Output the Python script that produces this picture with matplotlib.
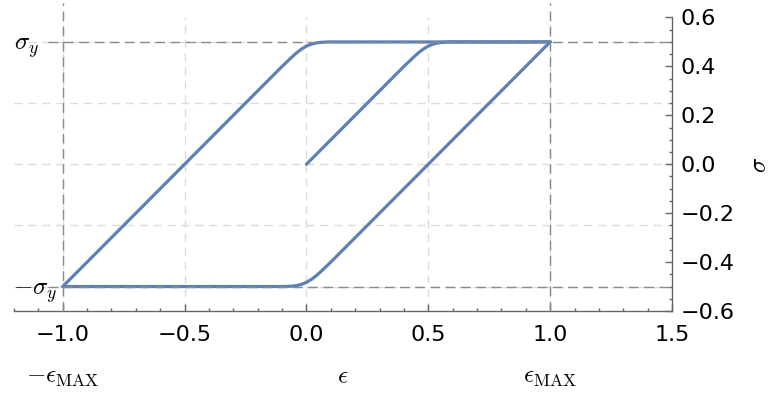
import numpy as np
import matplotlib
matplotlib.use("Agg")
import matplotlib.pyplot as plt
from matplotlib.ticker import MultipleLocator, FuncFormatter

plt.rcParams['mathtext.fontset'] = 'cm'
plt.rcParams['font.family'] = ['DejaVu Sans']

# strain / stress along the loading path (load, unload, reload)
strain_load = [0.0, 0.40, 0.44, 0.46, 0.48, 0.50, 0.52, 0.54, 0.56, 0.59, 1.0]
stress_load = [0.0, 0.40, 0.438, 0.456, 0.471, 0.483, 0.491, 0.496, 0.4985, 0.5, 0.5]

strain_unload = [1.0, 0.10, 0.06, 0.04, 0.02, 0.0, -0.02, -0.04, -0.06, -0.09, -1.0]
stress_unload = [0.5, -0.40, -0.438, -0.456, -0.471, -0.483, -0.491, -0.496, -0.4985, -0.5, -0.5]

strain_reload = [-1.0, -0.10, -0.06, -0.04, -0.02, 0.0, 0.02, 0.04, 0.06, 0.09, 1.0]
stress_reload = [-0.5, 0.40, 0.438, 0.456, 0.471, 0.483, 0.491, 0.496, 0.4985, 0.5, 0.5]

sigma_y = 0.5
eps_max = 1.0

curve_col = '#5E81B5'
dark = '#8a8a8a'
light = '#dcdcdc'

fig = plt.figure(figsize=(7.7, 3.94), dpi=100)
ax = fig.add_axes([0.0182, 0.2107, 0.8545, 0.7449])
ax.set_xlim(-1.2, 1.5)
ax.set_ylim(-0.6, 0.6)

# light grid
for gx in [-1.0, -0.5, 0.0, 0.5, 1.0]:
    ax.plot([gx, gx], [-0.6, 0.6], color=light, lw=1, ls=(0, (6, 4)), zorder=1)
for gy in [-0.5, -0.25, 0.0, 0.25, 0.5]:
    ax.plot([-1.2, 1.5], [gy, gy], color=light, lw=1, ls=(0, (6, 4)), zorder=1)

for xs, ys in [(strain_load, stress_load), (strain_unload, stress_unload),
               (strain_reload, stress_reload)]:
    ax.plot(xs, ys, color=curve_col, lw=2.3, zorder=3,
            solid_joinstyle='round', solid_capstyle='round')

# yield stress and max strain markers
for s in [sigma_y, -sigma_y]:
    ax.plot([-1.06, 1.5], [s, s], color=dark, lw=1, ls=(0, (7, 4)), zorder=4, clip_on=False)
for e in [-eps_max, eps_max]:
    ax.plot([e, e], [-0.6, 0.66], color=dark, lw=1, ls=(0, (7, 4)), zorder=4, clip_on=False)

ax.text(-1.2, sigma_y - 0.033, r'$\sigma_y$', fontsize=18, ha='left', va='baseline')
ax.text(-1.205, -sigma_y - 0.034, r'$-\sigma_y$', fontsize=18, ha='left', va='baseline')
ax.text(-eps_max, -0.895, r'$-\epsilon_{\mathrm{MAX}}$', fontsize=18, ha='center',
        va='baseline', clip_on=False)
ax.text(0.15, -0.895, r'$\epsilon$', fontsize=18, ha='center', va='baseline', clip_on=False)
ax.text(eps_max, -0.895, r'$\epsilon_{\mathrm{MAX}}$', fontsize=18, ha='center',
        va='baseline', clip_on=False)
fig.text(759 / 770, 1 - 165 / 394, r'$\sigma$', fontsize=18, rotation=90,
         ha='center', va='center')

# axes styling
ax.spines['top'].set_visible(False)
ax.spines['left'].set_visible(False)
for sp in ['bottom', 'right']:
    ax.spines[sp].set_color('#666666')
    ax.spines[sp].set_linewidth(1.0)
ax.yaxis.tick_right()
ax.xaxis.set_major_locator(MultipleLocator(0.5))
ax.xaxis.set_minor_locator(MultipleLocator(0.1))
ax.yaxis.set_major_locator(MultipleLocator(0.2))
ax.yaxis.set_minor_locator(MultipleLocator(0.05))
fmt = FuncFormatter(lambda v, p: ('%.1f' % v).replace('-', '\u2212'))
ax.xaxis.set_major_formatter(fmt)
ax.yaxis.set_major_formatter(fmt)
ax.tick_params(which='major', direction='in', length=5, width=1, color='#666666',
               labelsize=16, pad=6)
ax.tick_params(which='minor', direction='in', length=2.5, width=1, color='#666666')
ax.tick_params(axis='x', which='major', pad=10)

fig.savefig('out.png', dpi=100)
